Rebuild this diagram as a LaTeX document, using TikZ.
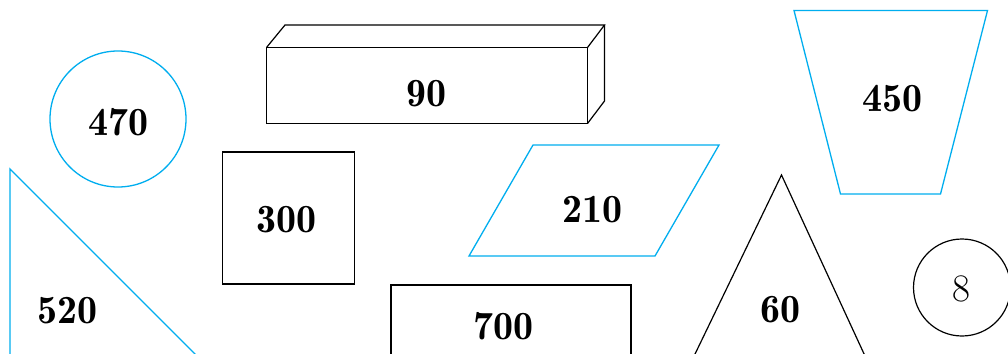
\documentclass[tikz,border=0pt]{standalone}
\usepackage{fontspec}
\newfontfamily\demifont{lmromandemi10-regular.otf}
\definecolor{shapecyan}{RGB}{0,174,239}
\tikzset{
  cyanline/.style={draw=shapecyan, line width=1.3pt, line join=miter},
  blackline/.style={draw=black, line width=1.2pt, line join=miter},
  numlabel/.style={inner sep=0pt, font=\fontsize{40}{44}\selectfont\demifont},
  plainlabel/.style={inner sep=0pt, font=\fontsize{39}{44}\selectfont}
}
\begin{document}
\begin{tikzpicture}[x=1pt,y=-1pt]
\useasboundingbox (0,0) rectangle (1008,353);
\fill[white] (0,0) rectangle (1008,353);
\begin{scope}
\clip (0,0) rectangle (1008,353);
% circle 470
\draw[cyanline] (118,119) circle[radius=68];
% right triangle 520
\draw[cyanline] (10,169) -- (10,380) -- (221,380) -- cycle;
% cuboid 90
\draw[blackline] (266.5,47.5) rectangle (587.5,123.5);
\draw[blackline] (266.5,47.5) -- (285,25) -- (604.5,25) -- (587.5,47.5);
\draw[blackline] (604.5,25) -- (604.5,101) -- (587.5,123.5);
% square 300
\draw[blackline] (222.5,152) rectangle (354.5,284);
% parallelogram 210
\draw[cyanline] (533,145) -- (719,145) -- (655,256) -- (469,256) -- cycle;
% rectangle 700
\draw[blackline] (391,285) rectangle (631,380);
% trapezoid 450
\draw[cyanline] (794,10.5) -- (987.5,10.5) -- (940.5,194) -- (840.5,194) -- cycle;
% triangle 60
\draw[blackline] (781.5,175) -- (681.5,382) -- (877,382) -- cycle;
% circle 8
\draw[blackline] (962,287.5) circle[radius=48.5];
\end{scope}
\node[numlabel] (l470) at (118.2,122.2) {470};
\node[numlabel] (l520) at (67.8,310.7) {520};
\node[numlabel] (l90) at (426.3,93.3) {90};
\node[numlabel] (l300) at (286.7,219.3) {300};
\node[numlabel] (l210) at (592.8,209.2) {210};
\node[numlabel] (l700) at (503.3,326) {700};
\node[numlabel] (l450) at (892.3,98.3) {450};
\node[numlabel] (l60) at (780,310) {60};
\node[plainlabel] (l8) at (961,289) {8};
\end{tikzpicture}
\end{document}
